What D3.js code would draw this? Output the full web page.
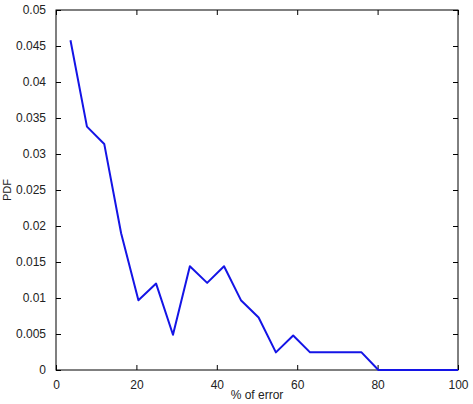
<!DOCTYPE html>
<html>
<head>
<meta charset="utf-8">
<script src="https://cdn.jsdelivr.net/npm/d3@7"></script>
<style>
  body { margin: 0; background: #fff; }
  svg text { font-family: "Liberation Sans", Arial, sans-serif; fill: #222; }
</style>
</head>
<body>
<div id="chart"></div>
<script>
// values
const errorPct = [3.6, 7.7, 12.0, 16.2, 20.5, 24.9, 29.1, 33.3, 37.6, 41.8, 46.0, 50.4, 54.7, 59.0, 63.2, 67.4, 71.6, 76.0, 80.2, 84.4, 100];
const pdf = [0.0458, 0.0338, 0.0314, 0.0190, 0.0097, 0.0120, 0.0049, 0.0144, 0.0121, 0.0144, 0.0097, 0.0073, 0.00245, 0.0048, 0.00245, 0.00245, 0.00245, 0.00245, 0, 0, 0];
const xTicks = [0, 20, 40, 60, 80, 100];
const yTicks = [0, 0.005, 0.01, 0.015, 0.02, 0.025, 0.03, 0.035, 0.04, 0.045, 0.05];

const W = 473, H = 404;
const m = { top: 10, right: 15, bottom: 34, left: 56 };
const iw = W - m.left - m.right, ih = H - m.top - m.bottom;

const svg = d3.select("#chart").append("svg").attr("width", W).attr("height", H);
const g = svg.append("g").attr("transform", `translate(${m.left},${m.top})`);

const x = d3.scaleLinear().domain([0, 100]).range([0, iw]);
const y = d3.scaleLinear().domain([0, 0.05]).range([ih, 0]);

// frame
g.append("rect").attr("width", iw).attr("height", ih)
  .attr("fill", "none").attr("stroke", "#000").attr("stroke-width", 1);

const fmt = d => d === 0 ? "0" : String(+d.toFixed(3));

// axes with inward ticks
const xb = g.append("g").attr("transform", `translate(0,${ih})`)
  .call(d3.axisBottom(x).tickValues(xTicks).tickSizeInner(-5).tickSizeOuter(0).tickPadding(10).tickFormat(d3.format("d")));
const xt = g.append("g")
  .call(d3.axisTop(x).tickValues(xTicks).tickSizeInner(-5).tickSizeOuter(0).tickFormat(""));
const yl = g.append("g")
  .call(d3.axisLeft(y).tickValues(yTicks).tickSizeInner(-5).tickSizeOuter(0).tickPadding(10).tickFormat(fmt));
const yr = g.append("g").attr("transform", `translate(${iw},0)`)
  .call(d3.axisRight(y).tickValues(yTicks).tickSizeInner(-5).tickSizeOuter(0).tickFormat(""));

[xb, xt, yl, yr].forEach(a => {
  a.select(".domain").remove();
  a.selectAll("line").attr("stroke", "#000");
  a.selectAll("text").style("font-size", "12px").style("font-family", "'Liberation Sans', Arial, sans-serif").attr("fill", "#222");
});

// the series
g.append("path")
  .datum(errorPct.map((v, i) => [v, pdf[i]]))
  .attr("fill", "none")
  .attr("stroke", "#1414e6")
  .attr("stroke-width", 2)
  .attr("stroke-linejoin", "round")
  .attr("d", d3.line().x(d => x(d[0])).y(d => y(d[1])));

// labels
svg.append("text").attr("x", m.left + iw / 2).attr("y", H - 5)
  .attr("text-anchor", "middle").style("font-size", "12px").text("% of error");
svg.append("text").attr("transform", `translate(11,${m.top + ih / 2}) rotate(-90)`)
  .attr("text-anchor", "middle").style("font-size", "11px").text("PDF");
</script>
</body>
</html>
